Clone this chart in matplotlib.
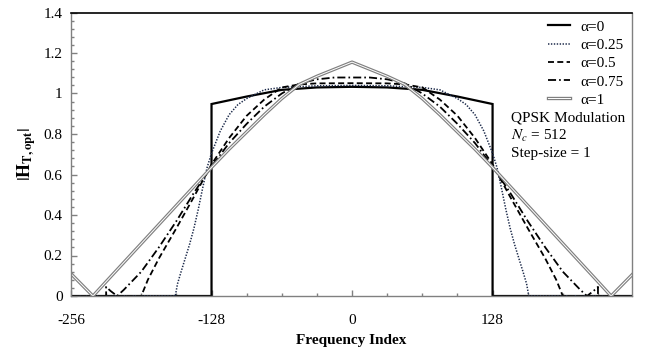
import numpy as np
import matplotlib
matplotlib.use("Agg")
import matplotlib.pyplot as plt
from matplotlib.ticker import MultipleLocator, FuncFormatter
import matplotlib.patheffects as pe

plt.rcParams['font.family'] = ['Liberation Serif', 'DejaVu Serif']
plt.rcParams['mathtext.fontset'] = 'stix'
plt.rcParams['lines.scale_dashes'] = False
plt.rcParams['axes.unicode_minus'] = False

# ---- data (right half, k >= 0; curves are symmetric about k = 0) ----
k_a0 = [0, 32, 64, 96, 128, 128, 256]
v_a0 = [1.033, 1.03, 1.018, 0.985, 0.948, 0.0, 0.0]

k_a025 = [0, 32, 64, 80, 96, 104, 112, 120, 128, 132, 136, 140, 144, 148, 152, 156, 159, 161, 256]
v_a025 = [1.04, 1.038, 1.03, 1.018, 0.975, 0.945, 0.895, 0.815, 0.705, 0.635, 0.535, 0.43, 0.335,
          0.255, 0.185, 0.115, 0.06, 0.0, 0.0]

k_a05 = [0, 32, 48, 64, 80, 96, 112, 128, 144, 160, 176, 186, 192, 256]
v_a05 = [1.051, 1.05, 1.045, 1.03, 0.97, 0.89, 0.78, 0.65, 0.49, 0.335, 0.185, 0.08, 0.0, 0.0]

k_a075 = [0, 16, 32, 48, 64, 80, 96, 112, 128, 144, 160, 176, 192, 208, 214, 220, 224, 224, 256]
v_a075 = [1.079, 1.079, 1.07, 1.05, 1.0, 0.935, 0.85, 0.755, 0.64, 0.51, 0.37, 0.24, 0.12, 0.03,
          0.0, 0.025, 0.045, 0.0, 0.0]

k_a1 = [0, 16, 32, 48, 64, 80, 96, 112, 128, 160, 192, 224, 236, 256]
v_a1 = [1.155, 1.12, 1.085, 1.045, 0.975, 0.895, 0.81, 0.725, 0.635, 0.447, 0.259, 0.071, 0.0, 0.11]

labels = ['α=0', 'α=0.25', 'α=0.5', 'α=0.75', 'α=1']
x_ticks = [-256, -128, 0, 128]
annot_lines = ['QPSK Modulation', r'$N_c$ = 512', 'Step-size = 1']


def mirror(k, v):
    k = np.asarray(k, float)
    v = np.asarray(v, float)
    kk = np.concatenate([-k[::-1], k[1:]])
    vv = np.concatenate([v[::-1], v[1:]])
    return kk, vv


fig = plt.figure(figsize=(6.49, 3.51), dpi=100)
ax = fig.add_axes([71 / 649, 1 - 296 / 351, (632 - 71) / 649, (296 - 12.5) / 351])

handles = []
x, y = mirror(k_a0, v_a0)
h, = ax.plot(x, y, color='black', lw=1.6, solid_joinstyle='miter')
handles.append(h)
x, y = mirror(k_a025, v_a025)
h, = ax.plot(x, y, color='#1c2a4a', lw=1.1, dashes=(1.0, 1.1))
handles.append(h)
x, y = mirror(k_a05, v_a05)
h, = ax.plot(x, y, color='black', lw=1.3, dashes=(4.3, 2.4))
handles.append(h)
x, y = mirror(k_a075, v_a075)
h, = ax.plot(x, y, color='black', lw=1.3, dashes=(5.8, 2.2, 1.2, 2.2))
handles.append(h)
x, y = mirror(k_a1, v_a1)
h, = ax.plot(x, y, color='white', lw=0.7,
             path_effects=[pe.Stroke(linewidth=2.4, foreground='#808080'), pe.Normal()])
handles.append(h)

ax.set_xlim(-256, 255)
ax.set_ylim(0, 1.4)
ax.set_xticks(x_ticks)
ax.xaxis.set_minor_locator(MultipleLocator(32))
ax.yaxis.set_major_locator(MultipleLocator(0.2))
ax.yaxis.set_minor_locator(MultipleLocator(0.04))
ax.yaxis.set_major_formatter(FuncFormatter(lambda v, p: ('%g' % round(v, 2))))
ax.tick_params(which='both', direction='in', color='#808080', labelsize=11, width=1)
ax.tick_params(which='major', length=4, pad=6)
ax.tick_params(which='minor', length=2.5)
ax.tick_params(axis='x', which='major', pad=13)

for s in ['left', 'bottom', 'right']:
    ax.spines[s].set_color('#808080')
    ax.spines[s].set_linewidth(1.0)
ax.spines['top'].set_color('black')
ax.spines['top'].set_linewidth(1.2)

ax.set_xlabel('Frequency Index', fontsize=11, fontweight='bold', labelpad=5)
ax.set_ylabel(r'$|\mathbf{H}_{\mathbf{T,opt}}|$', fontsize=13, labelpad=4)

leg = ax.legend(handles, labels, loc='upper left', bbox_to_anchor=((548 - 71) / 561, (296 - 20) / 283.5),
                frameon=False, fontsize=11, handlelength=1.45, handletextpad=0.65,
                labelspacing=0.3, borderpad=0, borderaxespad=0)

ys = [118, 136, 154]
for t, yy in zip(annot_lines, ys):
    ax.text((511 - 71) / 561, (296 - yy) / 283.5, t, transform=ax.transAxes,
            fontsize=11, ha='left', va='center')

fig.savefig('out.png', dpi=100)
